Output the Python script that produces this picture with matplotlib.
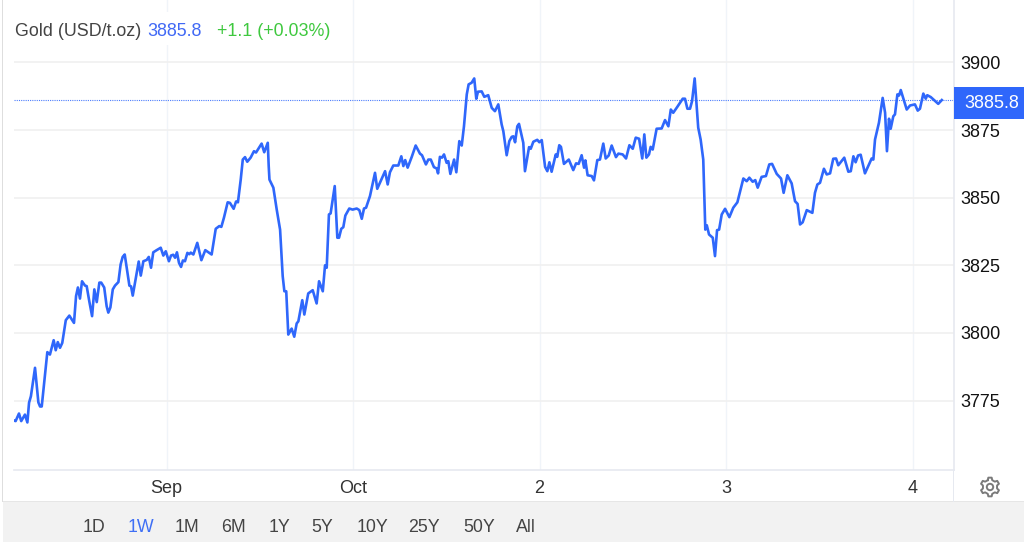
import numpy as np
import matplotlib
matplotlib.use('Agg')
from matplotlib import pyplot as plt
from matplotlib.patches import Rectangle

plt.rcParams['font.family'] = ['Liberation Sans', 'DejaVu Sans']

# time in days from the "Sep" tick
DAYS = [
    -0.817, -0.809, -0.791, -0.779, -0.759, -0.746, -0.737, -0.727, -0.705, -0.687, -0.678, -0.669,
    -0.639, -0.625, -0.605, -0.594, -0.583, -0.571, -0.559, -0.540, -0.521, -0.496, -0.485, -0.475,
    -0.464, -0.453, -0.437, -0.428, -0.414, -0.399, -0.387, -0.374, -0.360, -0.350, -0.334, -0.321,
    -0.312, -0.301, -0.288, -0.276, -0.258, -0.246, -0.235, -0.224, -0.199, -0.190, -0.181, -0.169,
    -0.149, -0.138, -0.124, -0.106, -0.095, -0.083, -0.071, -0.053, -0.031, -0.017, -0.004, 0.013,
    0.024, 0.036, 0.046, 0.056, 0.067, 0.078, 0.088, 0.099, 0.112, 0.122, 0.130, 0.144,
    0.165, 0.187, 0.208, 0.242, 0.264, 0.283, 0.294, 0.308, 0.328, 0.340, 0.360, 0.373,
    0.383, 0.398, 0.409, 0.421, 0.433, 0.451, 0.469, 0.480, 0.510, 0.524, 0.543, 0.548,
    0.552, 0.573, 0.591, 0.609, 0.623, 0.632, 0.642, 0.653, 0.671, 0.685, 0.698, 0.707,
    0.728, 0.739, 0.760, 0.784, 0.805, 0.818, 0.838, 0.850, 0.859, 0.871, 0.880, 0.902,
    0.916, 0.925, 0.937, 0.948, 0.959, 0.980, 0.998, 1.020, 1.034, 1.047, 1.059, 1.070,
    1.091, 1.118, 1.130, 1.172, 1.186, 1.198, 1.216, 1.243, 1.259, 1.270, 1.280, 1.293,
    1.315, 1.336, 1.359, 1.370, 1.391, 1.404, 1.417, 1.434, 1.449, 1.456, 1.466, 1.477,
    1.488, 1.502, 1.511, 1.522, 1.542, 1.554, 1.570, 1.583, 1.595, 1.610, 1.620, 1.636,
    1.650, 1.661, 1.670, 1.690, 1.704, 1.725, 1.744, 1.761, 1.779, 1.797, 1.806, 1.824,
    1.838, 1.851, 1.860, 1.869, 1.881, 1.890, 1.913, 1.922, 1.944, 1.953, 1.967, 1.988,
    1.999, 2.012, 2.030, 2.042, 2.053, 2.065, 2.087, 2.095, 2.106, 2.115, 2.131, 2.157,
    2.181, 2.196, 2.210, 2.226, 2.239, 2.246, 2.258, 2.280, 2.292, 2.310, 2.324, 2.342,
    2.355, 2.371, 2.387, 2.410, 2.423, 2.446, 2.464, 2.482, 2.500, 2.516, 2.534, 2.551,
    2.562, 2.573, 2.587, 2.596, 2.607, 2.628, 2.655, 2.673, 2.691, 2.704, 2.717, 2.739,
    2.768, 2.780, 2.793, 2.807, 2.818, 2.832, 2.851, 2.864, 2.878, 2.889, 2.897, 2.909,
    2.929, 2.941, 2.952, 2.963, 2.977, 2.995, 3.018, 3.039, 3.061, 3.093, 3.111, 3.125,
    3.143, 3.157, 3.170, 3.191, 3.214, 3.232, 3.247, 3.272, 3.295, 3.309, 3.329, 3.352,
    3.370, 3.384, 3.397, 3.411, 3.433, 3.463, 3.477, 3.490, 3.504, 3.525, 3.540, 3.558,
    3.575, 3.590, 3.602, 3.634, 3.656, 3.669, 3.683, 3.695, 3.708, 3.722, 3.745, 3.781,
    3.790, 3.799, 3.820, 3.840, 3.853, 3.863, 3.874, 3.883, 3.897, 3.906, 3.919, 3.928,
    3.937, 3.969, 3.987, 4.013, 4.028, 4.040, 4.058, 4.071, 4.079, 4.098, 4.138, 4.157,
]

PRICES = [
    3767.6, 3767.4, 3770.2, 3767.4, 3769.8, 3766.9, 3774.2, 3776.6, 3787.1, 3774.3, 3772.8, 3772.8,
    3792.9, 3792.0, 3797.3, 3793.6, 3796.6, 3794.5, 3796.3, 3804.7, 3806.4, 3803.7, 3813.6, 3816.8,
    3812.7, 3819.1, 3817.5, 3817.3, 3811.7, 3806.2, 3816.1, 3811.4, 3818.6, 3818.6, 3816.8, 3809.9,
    3807.5, 3809.4, 3816.1, 3817.5, 3818.8, 3825.3, 3828.1, 3829.0, 3817.5, 3817.2, 3813.8, 3818.6,
    3826.4, 3821.2, 3826.5, 3827.0, 3828.1, 3824.1, 3829.8, 3830.6, 3831.5, 3828.6, 3830.2, 3826.5,
    3828.6, 3828.9, 3827.8, 3829.8, 3825.9, 3824.4, 3826.8, 3826.5, 3829.6, 3829.1, 3829.7, 3829.0,
    3833.3, 3826.9, 3830.6, 3829.0, 3838.5, 3839.5, 3839.2, 3842.6, 3848.3, 3848.1, 3845.9, 3848.6,
    3848.3, 3856.7, 3864.1, 3865.0, 3863.3, 3864.8, 3867.2, 3866.7, 3870.0, 3866.8, 3870.3, 3861.7,
    3856.7, 3853.7, 3845.6, 3838.2, 3821.0, 3815.4, 3815.4, 3799.4, 3801.6, 3798.6, 3803.5, 3804.3,
    3812.1, 3806.8, 3814.6, 3815.8, 3810.9, 3819.1, 3815.4, 3825.0, 3824.1, 3843.8, 3844.2, 3854.3,
    3835.2, 3835.2, 3838.5, 3839.1, 3843.4, 3846.0, 3845.6, 3846.0, 3845.4, 3842.2, 3846.0, 3846.3,
    3850.6, 3859.2, 3853.3, 3859.8, 3854.9, 3859.4, 3861.9, 3861.9, 3865.3, 3861.7, 3863.9, 3861.1,
    3865.1, 3869.3, 3866.3, 3865.7, 3862.3, 3864.1, 3864.1, 3861.3, 3860.8, 3859.0, 3865.1, 3864.8,
    3866.0, 3862.9, 3863.5, 3858.8, 3864.1, 3859.4, 3870.9, 3869.3, 3876.4, 3888.2, 3891.9, 3892.5,
    3894.1, 3886.6, 3889.2, 3889.3, 3887.3, 3887.9, 3883.2, 3882.0, 3884.5, 3877.1, 3874.6, 3865.7,
    3870.9, 3872.5, 3872.7, 3870.5, 3876.4, 3877.3, 3870.3, 3859.8, 3868.7, 3868.1, 3870.7, 3871.4,
    3870.5, 3871.3, 3861.4, 3859.8, 3863.1, 3859.6, 3866.0, 3865.1, 3869.4, 3868.8, 3862.5, 3864.1,
    3860.2, 3862.7, 3862.5, 3865.7, 3861.1, 3863.8, 3858.3, 3858.0, 3856.4, 3863.9, 3864.1, 3870.0,
    3864.5, 3865.6, 3869.3, 3865.0, 3866.3, 3866.0, 3864.5, 3869.4, 3868.1, 3872.2, 3871.8, 3864.5,
    3873.4, 3864.8, 3866.0, 3868.8, 3867.8, 3875.5, 3875.6, 3878.7, 3876.4, 3882.6, 3881.4, 3883.6,
    3886.6, 3886.6, 3882.9, 3882.9, 3885.7, 3894.1, 3875.9, 3871.5, 3864.1, 3838.2, 3839.8, 3836.4,
    3835.2, 3828.4, 3838.0, 3838.2, 3843.8, 3845.9, 3842.8, 3846.3, 3848.3, 3857.1, 3856.1, 3857.4,
    3855.9, 3856.5, 3853.7, 3857.7, 3858.0, 3862.3, 3862.5, 3858.8, 3857.1, 3851.8, 3858.3, 3855.3,
    3848.7, 3847.7, 3840.1, 3840.9, 3845.4, 3844.4, 3851.8, 3854.9, 3855.5, 3860.7, 3858.6, 3859.0,
    3864.4, 3864.5, 3862.0, 3864.8, 3859.6, 3859.8, 3865.3, 3863.1, 3865.6, 3865.9, 3859.0, 3864.5,
    3864.1, 3871.5, 3877.7, 3886.9, 3881.4, 3867.2, 3879.2, 3875.5, 3880.1, 3880.8, 3888.2, 3887.8,
    3889.8, 3882.6, 3884.1, 3884.5, 3882.2, 3882.9, 3888.5, 3886.6, 3887.9, 3887.2, 3884.7, 3886.1,
]

X_TICKS = [0, 1, 2, 3, 4]
X_LABELS = ['Sep', 'Oct', '2', '3', '4']
Y_TICKS = [3775, 3800, 3825, 3850, 3875, 3900]
LAST_LEVEL = 3886.2
RANGES = ['1D', '1W', '1M', '6M', '1Y', '5Y', '10Y', '25Y', '50Y', 'All']
RANGE_POS = [94, 141, 187, 234, 280, 322, 372, 424, 479, 526]

BLUE = '#2f67fb'
W, H = 1024, 542


def draw_gear(ax, cx, cy, r_out, r_in, r_hole, color):
    teeth = 6
    angles = []
    radii = []
    for i in range(teeth):
        a = 2 * np.pi * i / teeth
        w = 2 * np.pi / teeth
        angles += [a - 0.30 * w, a - 0.17 * w, a + 0.17 * w, a + 0.30 * w]
        radii += [r_in, r_out, r_out, r_in]
    angles.append(angles[0])
    radii.append(radii[0])
    xs = cx + np.array(radii) * np.sin(angles)
    ys = cy - np.array(radii) * np.cos(angles)
    ax.plot(xs, ys, color=color, lw=1.4, solid_joinstyle='round')
    ax.add_patch(plt.Circle((cx, cy), r_hole, fill=False, ec=color, lw=1.4))


def main():
    fig = plt.figure(figsize=(W / 100, H / 100), dpi=100, facecolor='white')

    # chart area, in pixels: x 14..953.5, y 0..469.5
    ax = fig.add_axes([14 / W, 1 - 469.5 / H, 939.5 / W, 469.5 / H], zorder=1)
    ax.set_xlim(-0.8177, 4.2198)
    ax.set_ylim(3749.5, 3923.1)
    ax.set_facecolor('none')

    for s in ['top', 'left']:
        ax.spines[s].set_visible(False)
    ax.spines['right'].set_color('#e6e9f0')
    ax.spines['right'].set_linewidth(1.2)
    ax.spines['bottom'].set_color('#e6e9f0')
    ax.spines['bottom'].set_linewidth(1.2)

    ax.yaxis.tick_right()
    ax.set_yticks(Y_TICKS)
    ax.set_xticks(X_TICKS)
    ax.set_xticklabels(X_LABELS)
    ax.tick_params(axis='y', length=0, pad=5.2, labelsize=13, labelcolor='#111111')
    ax.tick_params(axis='x', length=0, pad=7.5, labelsize=13, labelcolor='#333333')

    ax.grid(axis='y', color='#f0f0f0', lw=1.2)
    ax.grid(axis='x', color='#f0f4f9', lw=1.0)
    ax.set_axisbelow(True)

    ax.axhline(LAST_LEVEL, color=BLUE, lw=0.8, ls=(0, (1, 1)), alpha=0.85, zorder=2)
    ax.plot(DAYS, PRICES, color=BLUE, lw=1.9, solid_joinstyle='round', zorder=3)

    # everything around the chart, in pixels
    ui = fig.add_axes([0, 0, 1, 1], zorder=2)
    ui.set_xlim(0, W)
    ui.set_ylim(H, 0)
    ui.axis('off')

    ui.add_patch(Rectangle((2, 0), 1, 502, color='#dedede', lw=0))
    ui.add_patch(Rectangle((3, 502), W - 3, 40, color='#f2f2f2', lw=0))
    ui.add_patch(Rectangle((3, 501), W - 3, 1, color='#e6e6e6', lw=0))
    ui.add_patch(Rectangle((953, 470), 1, 32, color='#e6e9f0', lw=0))

    # title sits on a white box that cuts the vertical grid line
    ui.add_patch(Rectangle((14, 12), 322, 33, color='white', lw=0))
    ui.text(15, 31, 'Gold (USD/t.oz)', fontsize=12.9, color='#444444', va='center')
    ui.text(147, 31, '3885.8', fontsize=12.9, color='#4169f5', va='center')
    ui.text(217, 31, '+1.1 (+0.03%)', fontsize=12.9, color='#3fc83f', va='center')

    ui.add_patch(Rectangle((953.5, 87), 70.5, 32, color=BLUE, lw=0))
    ui.text(964, 104, '3885.8', fontsize=13, color='white', va='center')

    for label, x in zip(RANGES, RANGE_POS):
        color = '#3f6ff5' if label == '1W' else '#444444'
        ui.text(x, 527.5, label, fontsize=12.8, color=color, ha='center', va='center')

    draw_gear(ui, 990, 487, 9.5, 7.2, 3.2, '#7a7a7a')

    fig.savefig('out.png', dpi=100)


if __name__ == '__main__':
    assert len(DAYS) == len(PRICES)
    main()
